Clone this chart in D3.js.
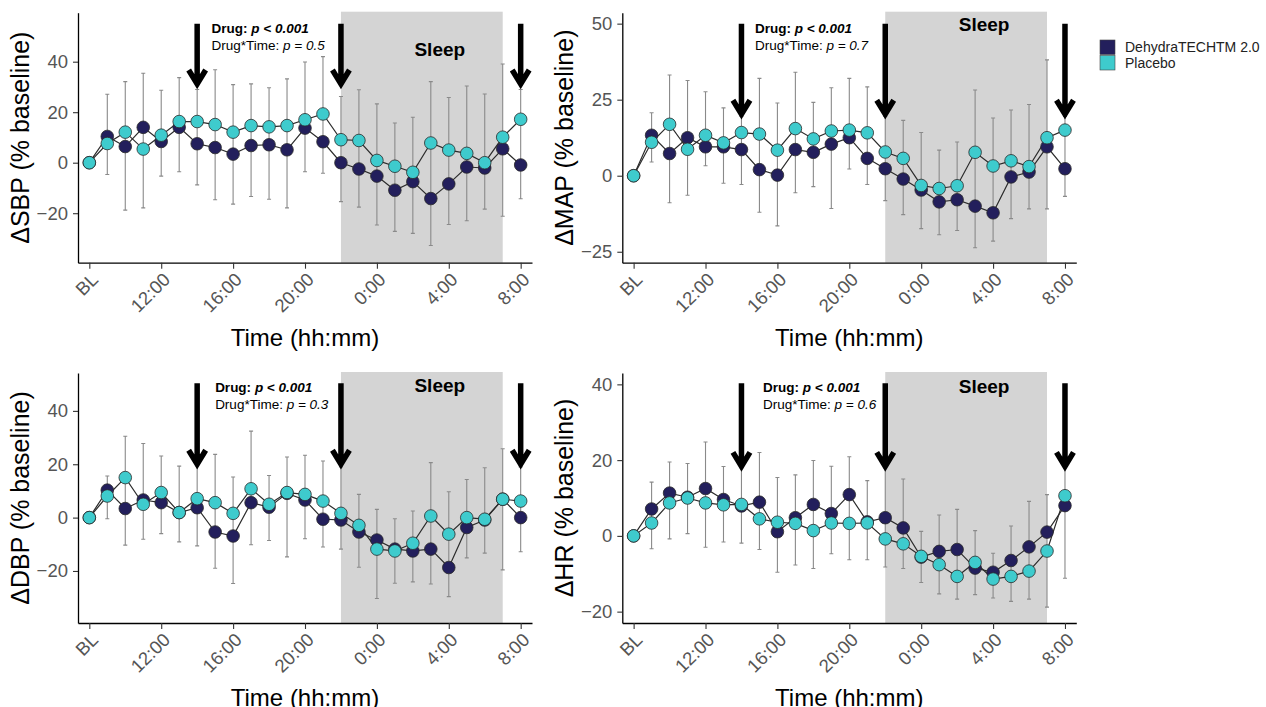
<!DOCTYPE html>
<html>
<head>
<meta charset="utf-8">
<script src="https://cdn.jsdelivr.net/npm/d3@7"></script>
<style>
body { margin: 0; background: #fff; }
svg { font-family: "Liberation Sans", Arial, sans-serif; }
</style>
</head>
<body>
<svg id="chart" width="1266" height="707"></svg>
<script>
// time points (hourly, BL then 9:00 -> 8:00 next day)
const hours = ["BL", "9:00", "10:00", "11:00", "12:00", "13:00", "14:00", "15:00", "16:00",
    "17:00", "18:00", "19:00", "20:00", "21:00", "22:00", "23:00", "0:00", "1:00", "2:00",
    "3:00", "4:00", "5:00", "6:00", "7:00", "8:00"];
const tickLabels = ["BL", "12:00", "16:00", "20:00", "0:00", "4:00", "8:00"];
const arrowTimes = ["14:00", "22:00", "8:00"];
const sleepFrom = "22:00", sleepTo = "7:00";
const groups = ["DehydraTECHTM 2.0", "Placebo"];

// SBP
const sbpDehydra = [0, 10.4, 6.4, 14, 8.4, 14, 7.5, 6, 3.4, 6.8, 7.1, 5.1, 13.7, 8.3, 0, -2.5, -5.3, -10.9, -7.5, -14.2, -8.4, -1.7, -2.1, 5.5, -0.9];
const sbpPlacebo = [0, 7.6, 12.1, 5.4, 10.9, 16.3, 16.3, 15.1, 12.1, 14.7, 14.2, 14.7, 17, 19.3, 9.1, 8.8, 0.9, -1.4, -3.8, 7.8, 5, 3.7, 0, 10.1, 17.2];
const sbpLow = [null, -4.7, -18.8, -17.9, -5.3, -3.6, -8.8, -14.7, -16.4, -13.4, -14.5, -17.9, -3.6, -4.2, -15.4, -17.6, -24.7, -27.2, -28, -32.8, -24.5, -23, -18.4, -21.2, -14.3];
const sbpHigh = [null, 27.1, 32.1, 35.4, 28.7, 33.7, 29, 36.8, 30.9, 31.2, 29.7, 33.2, 39.9, 42, 26.2, 28.9, 23.3, 15.7, 18, 32.1, 25.8, 30.4, 27.2, 39.1, 29];

// MAP
const mapDehydra = [0, 13.3, 7.3, 12.5, 9.5, 9.5, 8.6, 2, 0.2, 8.6, 7.7, 10.4, 12.5, 5.7, 2.3, -1.1, -4.7, -8.6, -7.9, -10, -12.2, -0.4, 1.2, 9.5, 2.3];
const mapPlacebo = [0, 11, 16.9, 8.7, 13.3, 10.8, 14.2, 13.7, 8.4, 15.5, 12.1, 14.7, 15, 14.1, 7.8, 5.7, -3.2, -4.2, -3.3, 7.7, 3.2, 4.9, 3, 12.5, 15];
const mapLow = [null, 4.5, -8.9, -6.4, 3.3, -2.5, -2.9, -12, -16.5, -5.6, -3.6, -10.8, 2.2, -2.9, -8.2, -12.8, -17.4, -19.4, -18, -23.7, -21.5, -14.1, -10.9, -10.9, -6.8];
const mapHigh = [null, 20.7, 33.1, 31.3, 27.6, 22.3, 19.5, 32, 23.9, 34, 24.1, 28.9, 32, 29.2, 19.5, 18.2, 14.2, 8.4, 11.1, 28.2, 19, 21.6, 23.4, 38.1, 19.5];

// DBP
const dbpDehydra = [0, 10.3, 3.4, 6.6, 5.6, 1.9, 3.7, -5.4, -6.9, 5.6, 3.9, 9.1, 6.6, -0.6, -0.9, -5.4, -8.4, -11.8, -12.5, -11.8, -18.7, -3.7, -0.9, 6.9, 0];
const dbpPlacebo = [0, 8.1, 15, 5, 9.4, 1.9, 7.1, 5.6, 1.6, 10.8, 5, 9.4, 8.7, 6.2, 1.6, -2.9, -11.8, -12.5, -9.6, 0.6, -6.2, 0, -0.6, 6.9, 6.2];
const dbpLow = [null, -0.4, -10.3, -8.1, -6, -9.1, -10.6, -19, -24.7, -10.2, -8.6, -14.7, -7.9, -11, -11.8, -18.6, -30.3, -24.6, -24.1, -24.9, -29.6, -15.1, -13.3, -19.6, -12.8];
const dbpHigh = [null, 15.6, 30.5, 27.8, 23.1, 19.3, 19.5, 23.7, 15.2, 32.4, 15.8, 22.7, 23.4, 21.2, 19, 8.7, 3.1, -0.4, 2.5, 20.6, 9.7, 14.3, 18.7, 25.8, 19];

// HR
const hrDehydra = [0, 7.1, 11.3, 10.2, 12.5, 9.6, 7.9, 8.9, 1.1, 4.8, 8.3, 5.9, 10.9, 3.7, 4.8, 2.1, -5.6, -4.1, -3.6, -8.5, -9.6, -6.5, -2.9, 1, 8];
const hrPlacebo = [0, 3.4, 8.7, 10, 8.7, 8.2, 8.3, 4.5, 3.6, 3.3, 1.4, 3.4, 3.3, 3.4, -0.8, -2.1, -5.4, -7.6, -10.7, -7, -11.4, -10.7, -9.3, -4, 10.6];
const hrLow = [null, -3.4, -0.8, 0.6, -3, -1.6, -1.9, -3.6, -9.6, -7.7, -8.6, -4.7, -6.3, -6.3, -8.2, -8.6, -12.3, -15.3, -16.7, -15.5, -16.4, -17.3, -16.7, -18.8, -11.2];
const hrHigh = [null, 14.2, 19.5, 19.1, 24.8, 18.3, 18, 22, 15.4, 16.1, 19.9, 18.4, 20.9, 14.6, 18, 15, 1.2, 5.5, 7, 1.4, -4.6, 2.6, 9.1, 10.9, 18];

// per-panel settings
const measures = ["SBP", "MAP", "DBP", "HR"];
const yDomains = [[-39.6, 59.4], [-28.6, 53.6], [-39.5, 54.2], [-23, 43]];
const yTicks = [[-20, 0, 20, 40], [-25, 0, 25, 50], [-20, 0, 20, 40], [-20, 0, 20, 40]];
const interactionP = ["0.5", "0.7", "0.3", "0.6"];
const arrowTop = [55, 50, 50.4, 40.3];
const arrowTip = [29.6, 18.9, 18.5, 17.3];
const sleepLabelY = [44.5, 49.5, 49.4, 39.3];
const noteX = [6.8, 6.75, 7.0, 7.2];

const dehydra = [sbpDehydra, mapDehydra, dbpDehydra, hrDehydra];
const placebo = [sbpPlacebo, mapPlacebo, dbpPlacebo, hrPlacebo];
const lows = [sbpLow, mapLow, dbpLow, hrLow];
const highs = [sbpHigh, mapHigh, dbpHigh, hrHigh];

const colors = ["#231f5c", "#3ecbcd"];

// layout
const W = 454, H = 250;
const origins = [[78, 12.7], [622.3, 12.7], [78, 373], [622.3, 373]];

const svg = d3.select("#chart");

const x = d3.scaleLinear().domain([-0.63, 24.63]).range([0, W]);
const xt = t => x(hours.indexOf(t));

measures.forEach((m, p) => {
    const g = svg.append("g").attr("transform", `translate(${origins[p][0]},${origins[p][1]})`);
    const y = d3.scaleLinear().domain(yDomains[p]).range([H, 0]);

    // sleep window
    g.append("rect")
        .attr("x", xt(sleepFrom))
        .attr("width", xt(sleepTo) - xt(sleepFrom))
        .attr("y", y(yDomains[p][1]) - 1)
        .attr("height", y(yDomains[p][0]) - y(yDomains[p][1]) + 1)
        .attr("fill", "#d4d4d4");

    // error bars
    const eb = g.append("g").attr("stroke", "#8a8a8a").attr("stroke-width", 1.1);
    hours.forEach((h, i) => {
        if (lows[p][i] == null) return;
        const cx = x(i);
        eb.append("path")
            .attr("d", `M${cx},${y(lows[p][i])}V${y(highs[p][i])}` +
                `M${cx - 2},${y(lows[p][i])}H${cx + 2}M${cx - 2},${y(highs[p][i])}H${cx + 2}`);
    });

    const line = d3.line().x((d, i) => x(i)).y(d => y(d));
    [dehydra[p], placebo[p]].forEach(s => {
        g.append("path")
            .attr("d", line(s))
            .attr("fill", "none")
            .attr("stroke", "#2b2b2b")
            .attr("stroke-width", 1.2);
    });
    [dehydra[p], placebo[p]].forEach((s, k) => {
        g.append("g").selectAll("circle").data(s).enter()
            .append("circle")
            .attr("cx", (d, i) => x(i))
            .attr("cy", d => y(d))
            .attr("r", 6.3)
            .attr("fill", colors[k])
            .attr("stroke", "#2a2a2a")
            .attr("stroke-width", 0.8);
    });

    // arrows
    arrowTimes.forEach(t => {
        const ax = xt(t), t0 = y(arrowTop[p]), t1 = y(arrowTip[p]) - 4;
        g.append("path")
            .attr("d", `M${ax},${t0}V${t1 - 2}M${ax - 8.5},${t1 - 14}L${ax},${t1}L${ax + 8.5},${t1 - 14}`)
            .attr("fill", "none")
            .attr("stroke", "#000")
            .attr("stroke-width", 5.5)
            .attr("stroke-linejoin", "miter");
    });

    // stats note
    const nx = x(noteX[p]), ny = y(arrowTop[p]);
    const n1 = g.append("text").attr("x", nx).attr("y", ny + 9).attr("font-size", 13.5).attr("font-weight", "bold");
    n1.append("tspan").text("Drug: ");
    n1.append("tspan").attr("font-style", "italic").text("p < 0.001");
    const n2 = g.append("text").attr("x", nx).attr("y", ny + 26).attr("font-size", 13.5);
    n2.append("tspan").text("Drug*Time: ");
    n2.append("tspan").attr("font-style", "italic").text("p = " + interactionP[p]);

    g.append("text")
        .attr("x", x(19.5))
        .attr("y", y(sleepLabelY[p]) + 6)
        .attr("text-anchor", "middle")
        .attr("font-size", 19)
        .attr("font-weight", "bold")
        .text("Sleep");

    // axes
    const yAxis = g.append("g")
        .call(d3.axisLeft(y).tickValues(yTicks[p]).tickSize(5).tickSizeOuter(0).tickPadding(5));
    const xAxis = g.append("g")
        .attr("transform", `translate(0,${H})`)
        .call(d3.axisBottom(x).tickValues(tickLabels.map(t => hours.indexOf(t)))
            .tickFormat(i => hours[i]).tickSize(6).tickSizeOuter(0));
    [yAxis, xAxis].forEach(a => {
        a.select(".domain").attr("stroke", "#000").attr("stroke-width", 1.3);
        a.selectAll(".tick line").attr("stroke", "#333").attr("stroke-width", 1.1);
        a.selectAll("text").attr("fill", "#555").attr("font-size", 18.5)
            .attr("font-family", "Liberation Sans, Arial, sans-serif");
    });
    xAxis.selectAll("text")
        .attr("text-anchor", "end")
        .attr("dy", null)
        .attr("y", 0)
        .attr("transform", "translate(9.5,18) rotate(-45)");

    g.append("text")
        .attr("x", W / 2)
        .attr("y", H + 83)
        .attr("text-anchor", "middle")
        .attr("font-size", 24)
        .text("Time (hh:mm)");
    g.append("text")
        .attr("transform", `translate(-49,${H / 2}) rotate(-90)`)
        .attr("text-anchor", "middle")
        .attr("font-size", 25)
        .text("\u0394" + m + " (% baseline)");
});

// legend
const lg = svg.append("g").attr("transform", "translate(1100,40)");
groups.forEach((name, k) => {
    lg.append("rect")
        .attr("x", 0).attr("y", k * 15.5)
        .attr("width", 15).attr("height", 14.5)
        .attr("fill", colors[k])
        .attr("stroke", "#444").attr("stroke-width", 0.6);
    lg.append("text")
        .attr("x", 25).attr("y", k * 15.5 + 12)
        .attr("font-size", 14)
        .attr("fill", "#222")
        .text(name);
});
</script>
</body>
</html>
